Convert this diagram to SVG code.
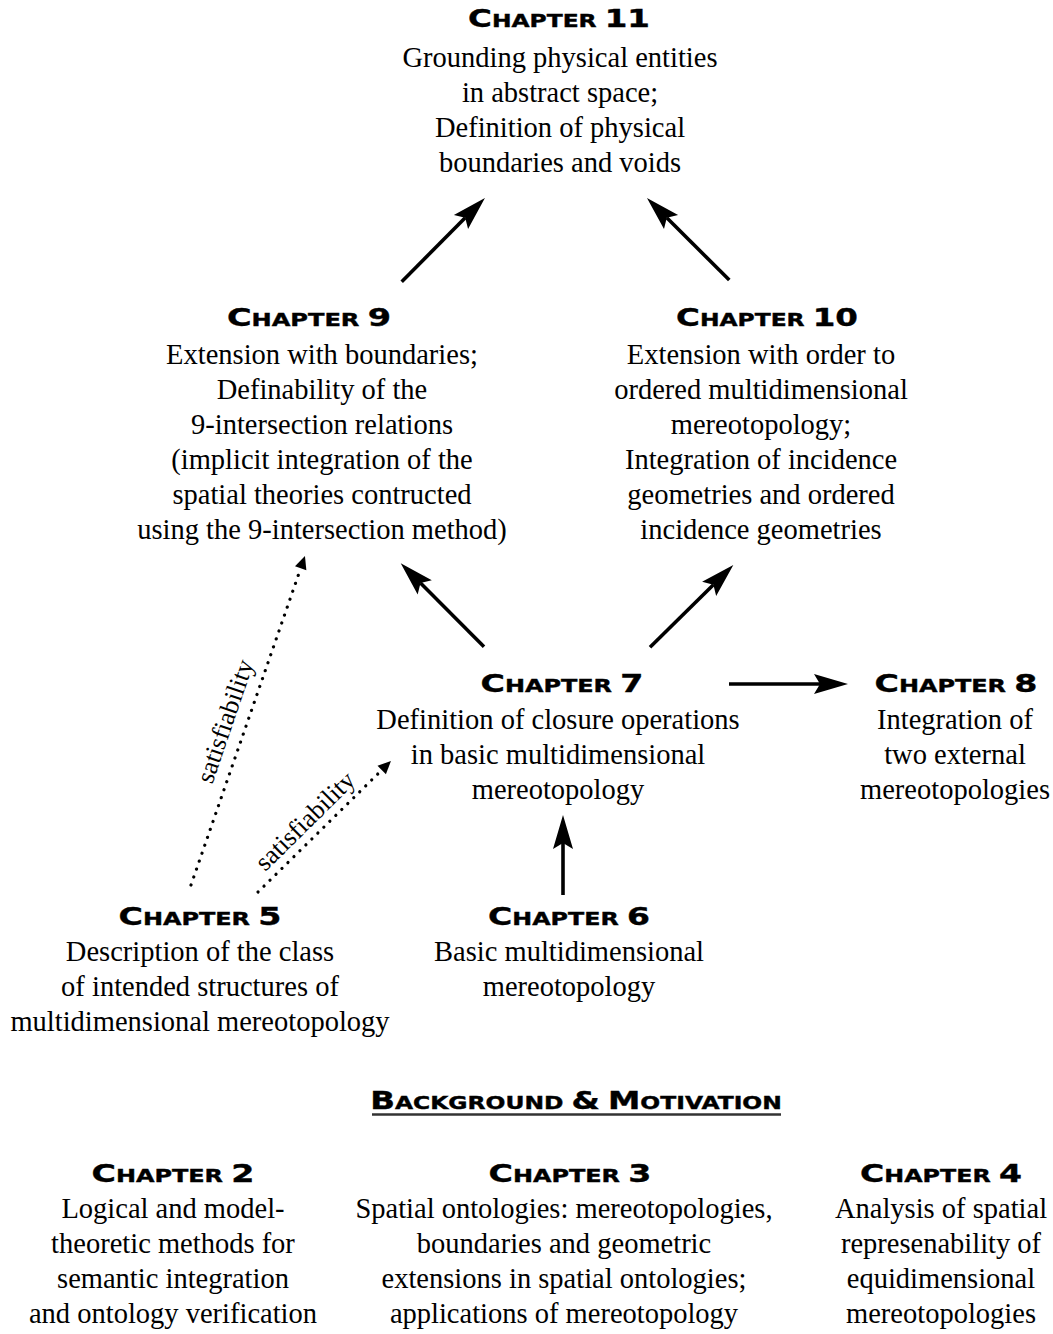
<svg xmlns="http://www.w3.org/2000/svg" width="1053" height="1334" viewBox="0 0 1053 1334">
<style>
.h{font-family:"DejaVu Sans","Liberation Sans",sans-serif;font-weight:bold;font-size:18px;text-anchor:middle;fill:#000;stroke:#000;stroke-width:0.4}
.b{font-size:25px}
.t{font-family:"Liberation Serif","Times New Roman",serif;font-size:28.5px;text-anchor:middle;fill:#000}
.s{font-family:"Liberation Serif","Times New Roman",serif;font-size:26px;text-anchor:middle;fill:#000}
.solid{stroke:#000;stroke-width:3.6;fill:none;marker-end:url(#ah)}
.dot{stroke:#000;stroke-width:3.2;fill:none;stroke-linecap:round;stroke-dasharray:0.1 8.3;marker-end:url(#dh)}
</style>
<defs>
<marker id="ah" markerUnits="userSpaceOnUse" viewBox="0 0 34 20" markerWidth="34" markerHeight="20" refX="6" refY="10" orient="auto" overflow="visible">
<path d="M34,10 L0,0 L6,10 L0,20 Z" fill="#000"/>
</marker>
<marker id="dh" markerUnits="userSpaceOnUse" viewBox="0 0 13 12" markerWidth="13" markerHeight="12" refX="0" refY="6" orient="auto" overflow="visible">
<path d="M0,0 L13,6 L0,12 Z" fill="#000"/>
</marker>
</defs>

<g id="connectors">
<line class="solid" x1="401.7" y1="281.7" x2="465.2" y2="217.8"/>
<line class="solid" x1="729.3" y1="280" x2="666.8" y2="217.8"/>
<line class="solid" x1="484" y1="646.7" x2="420.5" y2="583.1"/>
<line class="solid" x1="650" y1="647.3" x2="713.4" y2="584.7"/>
<line class="solid" x1="729" y1="684" x2="820" y2="684"/>
<line class="solid" x1="563" y1="895" x2="563" y2="843"/>
<line class="dot" x1="191" y1="885" x2="300.7" y2="568.3"/>
<line class="dot" x1="258" y1="892" x2="381.7" y2="770.1"/>
<text class="s" transform="translate(233,724) rotate(-71.07)">satisfiability</text>
<text class="s" transform="translate(311,827) rotate(-44.6)">satisfiability</text>
</g>

<g id="ch11">
<text class="h" transform="translate(559,27) scale(1.3,1)"><tspan class="b">C</tspan>HAPTER <tspan class="b">11</tspan></text>
<text class="t" x="560" y="67">Grounding physical entities</text>
<text class="t" x="560" y="102">in abstract space;</text>
<text class="t" x="560" y="137">Definition of physical</text>
<text class="t" x="560" y="172">boundaries and voids</text>
</g>

<g id="ch9">
<text class="h" transform="translate(309,326) scale(1.34,1)"><tspan class="b">C</tspan>HAPTER <tspan class="b">9</tspan></text>
<text class="t" x="322" y="364">Extension with boundaries;</text>
<text class="t" x="322" y="399">Definability of the</text>
<text class="t" x="322" y="434">9-intersection relations</text>
<text class="t" x="322" y="469">(implicit integration of the</text>
<text class="t" x="322" y="504">spatial theories contructed</text>
<text class="t" x="322" y="539">using the 9-intersection method)</text>
</g>

<g id="ch10">
<text class="h" transform="translate(767,326) scale(1.3,1)"><tspan class="b">C</tspan>HAPTER <tspan class="b">10</tspan></text>
<text class="t" x="761" y="364">Extension with order to</text>
<text class="t" x="761" y="399">ordered multidimensional</text>
<text class="t" x="761" y="434">mereotopology;</text>
<text class="t" x="761" y="469">Integration of incidence</text>
<text class="t" x="761" y="504">geometries and ordered</text>
<text class="t" x="761" y="539">incidence geometries</text>
</g>

<g id="ch7">
<text class="h" transform="translate(562,692) scale(1.33,1)"><tspan class="b">C</tspan>HAPTER <tspan class="b">7</tspan></text>
<text class="t" x="558" y="729">Definition of closure operations</text>
<text class="t" x="558" y="764">in basic multidimensional</text>
<text class="t" x="558" y="799">mereotopology</text>
</g>

<g id="ch8">
<text class="h" transform="translate(956,692) scale(1.33,1)"><tspan class="b">C</tspan>HAPTER <tspan class="b">8</tspan></text>
<text class="t" x="955" y="729">Integration of</text>
<text class="t" x="955" y="764">two external</text>
<text class="t" x="955" y="799">mereotopologies</text>
</g>

<g id="ch5">
<text class="h" transform="translate(200,925) scale(1.33,1)"><tspan class="b">C</tspan>HAPTER <tspan class="b">5</tspan></text>
<text class="t" x="200" y="961">Description of the class</text>
<text class="t" x="200" y="996">of intended structures of</text>
<text class="t" x="200" y="1031">multidimensional mereotopology</text>
</g>

<g id="ch6">
<text class="h" transform="translate(569,925) scale(1.32,1)"><tspan class="b">C</tspan>HAPTER <tspan class="b">6</tspan></text>
<text class="t" x="569" y="961">Basic multidimensional</text>
<text class="t" x="569" y="996">mereotopology</text>
</g>

<g id="background">
<text class="h" transform="translate(576,1109) scale(1.3,1)"><tspan class="b">B</tspan>ACKGROUND <tspan class="b">&amp;</tspan> <tspan class="b">M</tspan>OTIVATION</text>
<line x1="372" y1="1114.5" x2="781" y2="1114.5" stroke="#333" stroke-width="2.5"/>
</g>

<g id="ch2">
<text class="h" transform="translate(173,1182) scale(1.33,1)"><tspan class="b">C</tspan>HAPTER <tspan class="b">2</tspan></text>
<text class="t" x="173" y="1218">Logical and model-</text>
<text class="t" x="173" y="1253">theoretic methods for</text>
<text class="t" x="173" y="1288">semantic integration</text>
<text class="t" x="173" y="1323">and ontology verification</text>
</g>

<g id="ch3">
<text class="h" transform="translate(570,1182) scale(1.33,1)"><tspan class="b">C</tspan>HAPTER <tspan class="b">3</tspan></text>
<text class="t" x="564" y="1218">Spatial ontologies: mereotopologies,</text>
<text class="t" x="564" y="1253">boundaries and geometric</text>
<text class="t" x="564" y="1288">extensions in spatial ontologies;</text>
<text class="t" x="564" y="1323">applications of mereotopology</text>
</g>

<g id="ch4">
<text class="h" transform="translate(941,1182) scale(1.32,1)"><tspan class="b">C</tspan>HAPTER <tspan class="b">4</tspan></text>
<text class="t" x="941" y="1218">Analysis of spatial</text>
<text class="t" x="941" y="1253">represenability of</text>
<text class="t" x="941" y="1288">equidimensional</text>
<text class="t" x="941" y="1323">mereotopologies</text>
</g>
</svg>
